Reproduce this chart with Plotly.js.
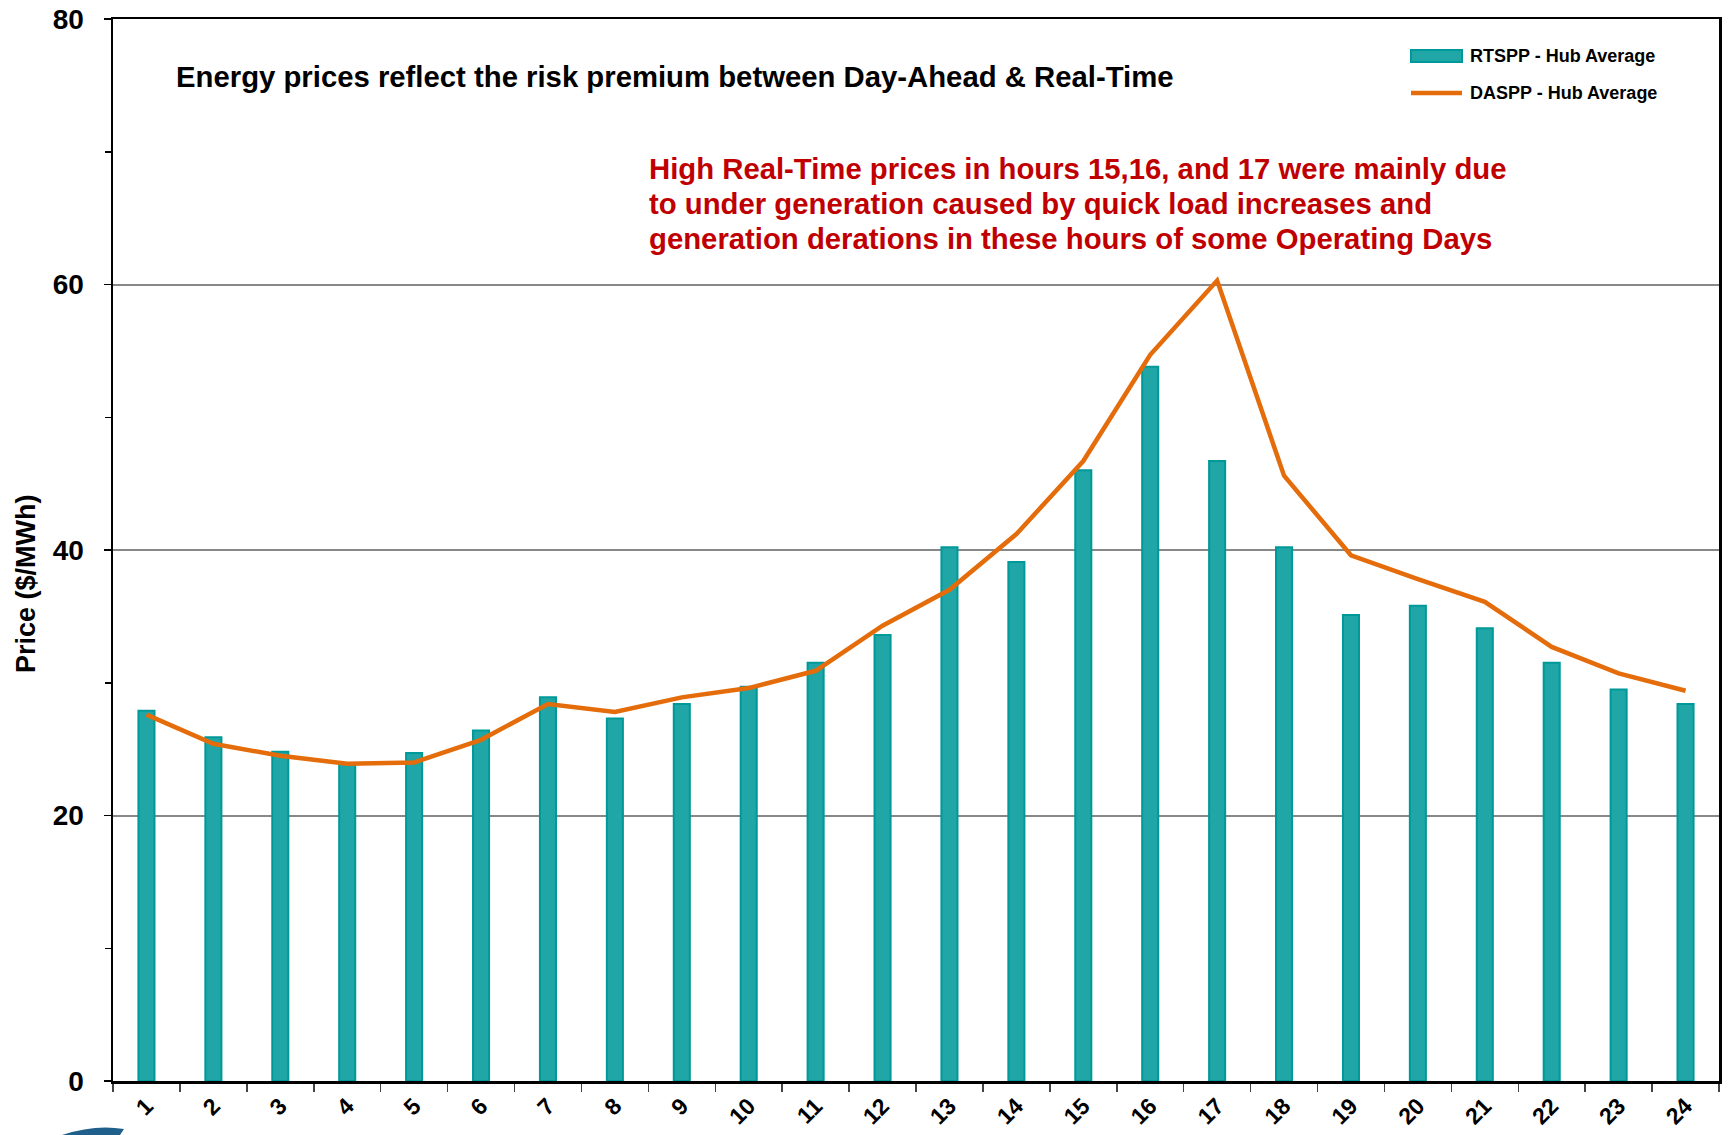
<!DOCTYPE html>
<html>
<head>
<meta charset="utf-8">
<script src="https://cdn.plot.ly/plotly-3.0.1.min.js"></script>
<style>html,body{margin:0;padding:0;background:#fff;}#chart{width:1729px;height:1135px;}</style>
</head>
<body>
<div id="chart"></div>
<script>
var hours = ['1','2','3','4','5','6','7','8','9','10','11','12','13','14','15','16','17','18','19','20','21','22','23','24'];
var rtspp = [27.9,25.9,24.8,23.9,24.7,26.4,28.9,27.3,28.4,29.7,31.5,33.6,40.2,39.1,46.0,53.8,46.7,40.2,35.1,35.8,34.1,31.5,29.5,28.4];
var daspp = [27.6,25.4,24.5,23.9,24.0,25.7,28.4,27.8,28.9,29.6,30.9,34.3,37.0,41.2,46.7,54.7,60.3,45.6,39.6,37.8,36.1,32.7,30.7,29.4];
var seriesNames = ['RTSPP - Hub Average','DASPP - Hub Average'];
var chartTitle = 'Energy prices reflect the risk premium between Day-Ahead & Real-Time';
var noteLines = ['High Real-Time prices in hours 15,16, and 17 were mainly due',
                 'to under generation caused by quick load increases and',
                 'generation derations in these hours of some Operating Days'];
var yTitle = 'Price ($/MWh)';

var W = 1729, H = 1135, L = 113, R = 10, T = 19, B = 54;
var pw = W - L - R, ph = H - T - B;
function px(x){ return (x - L) / pw; }
function py(y){ return (H - B - y) / ph; }

var FONT = 'Liberation Sans, Arial, Helvetica, sans-serif';
var teal = '#20A6A6', tealLine = '#009999', orange = '#E46C0A';

var traces = [
  {type:'bar', x:hours, y:rtspp, name:seriesNames[0], width:0.24,
   marker:{color:teal, line:{color:tealLine, width:2}}, showlegend:false},
  {type:'scatter', mode:'lines', x:hours, y:daspp, name:seriesNames[1],
   line:{color:orange, width:4.5}, showlegend:false}
];

var annotations = [
  {xref:'paper', yref:'paper', x:px(174), y:py(76), xanchor:'left', yanchor:'middle', showarrow:false,
   text:chartTitle, font:{family:FONT, size:29.3, weight:'bold', color:'#000'}},
  {xref:'paper', yref:'paper', x:px(1468), y:py(56), xanchor:'left', yanchor:'middle', showarrow:false,
   text:seriesNames[0], font:{family:FONT, size:18, weight:'bold', color:'#000'}},
  {xref:'paper', yref:'paper', x:px(1468), y:py(93), xanchor:'left', yanchor:'middle', showarrow:false,
   text:seriesNames[1], font:{family:FONT, size:18, weight:'bold', color:'#000'}},
  {xref:'paper', yref:'paper', x:px(26), y:py(584), xanchor:'center', yanchor:'middle', showarrow:false,
   textangle:-90, text:yTitle, font:{family:FONT, size:27, weight:'bold', color:'#000'}}
];
var noteY = [168, 203, 238];
for (var i = 0; i < noteLines.length; i++) {
  annotations.push({xref:'paper', yref:'paper', x:px(647), y:py(noteY[i]), xanchor:'left', yanchor:'middle',
    showarrow:false, text:noteLines[i], font:{family:FONT, size:29.3, weight:'bold', color:'#C00000'}});
}

var layout = {
  width:W, height:H,
  margin:{l:L, r:R, t:T, b:B},
  paper_bgcolor:'#fff', plot_bgcolor:'#fff',
  font:{family:FONT, color:'#000'},
  xaxis:{type:'category', tickson:'boundaries', ticks:'outside', ticklen:8, tickwidth:1.5, tickcolor:'#444',
         showline:true, linecolor:'#000', linewidth:2.5, mirror:true, showgrid:false, zeroline:false,
         tickangle:-45, ticklabelstandoff:0,
         tickfont:{family:FONT, size:23, weight:'bold', color:'#000'}, automargin:false},
  yaxis:{range:[0,80], dtick:20, ticks:'outside', ticklen:7, tickwidth:1.5, tickcolor:'#000',
         showline:true, linecolor:'#000', linewidth:2.5, mirror:true,
         showgrid:true, gridcolor:'#888', gridwidth:2, zeroline:false,
         minor:{dtick:10, ticks:'outside', ticklen:6, tickcolor:'#000', tickwidth:1.5, showgrid:false},
         ticklabelstandoff:14,
         tickfont:{family:FONT, size:28, weight:'bold', color:'#000'},
         automargin:false},
  annotations:annotations,
  shapes:[
    {type:'rect', xref:'paper', yref:'paper', x0:px(1411), x1:px(1462), y0:py(62), y1:py(50),
     fillcolor:teal, line:{color:tealLine, width:2}},
    {type:'line', xref:'paper', yref:'paper', x0:px(1411), x1:px(1462), y0:py(93), y1:py(93),
     line:{color:orange, width:4.5}},
    {type:'path', xref:'paper', yref:'paper',
     path:'M '+px(62)+','+py(1135)+' Q '+px(95)+','+py(1124)+' '+px(124)+','+py(1129)+' L '+px(120)+','+py(1135)+' Z',
     fillcolor:'#1F5F8B', line:{width:0}}
  ]
};

Plotly.newPlot('chart', traces, layout, {displayModeBar:false, staticPlot:true});
</script>
</body>
</html>
